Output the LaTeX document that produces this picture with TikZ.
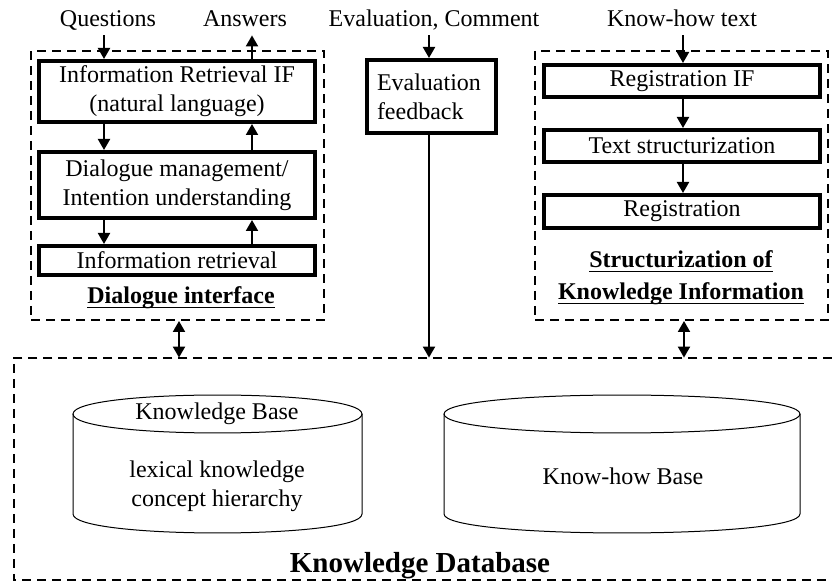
\documentclass[tikz,border=0pt]{standalone}
\usepackage{fontspec}
\setmainfont{Liberation Serif}
\usetikzlibrary{arrows.meta}

% underline that crosses descenders at a fixed depth
\newsavebox\ulinebox
\newcommand\ulined[1]{\sbox\ulinebox{#1}\rlap{\rule[-2pt]{\wd\ulinebox}{0.6pt}}\usebox\ulinebox}

\begin{document}
\begin{tikzpicture}[x=0.5pt,y=-0.5pt,
  every node/.style={font=\fontsize{12}{14.4}\selectfont, inner sep=0pt},
  thickbox/.style={draw, line width=2pt, align=center},
  groupbox/.style={draw, line width=1pt, dash pattern=on 4.5pt off 3pt},
  tip/.tip={Triangle[length=5.5pt,width=6pt]},
  arr/.style={line width=1pt, -tip},
  darr/.style={line width=1pt, tip-tip},
  lbl/.style={anchor=base, text depth=0pt},
  cyl/.style={line width=0.5pt}]
\useasboundingbox (0,0) rectangle (832,588);

% x positions of vertical connectors
\coordinate (qx) at (104,0);
\coordinate (ax) at (252,0);
\coordinate (ex) at (429,0);
\coordinate (kx) at (683,0);
\coordinate (dx) at (179,0);
\coordinate (sx) at (684,0);

% external inputs / outputs
\node[lbl] (q)  at (108,27) {Questions};
\node[lbl] (a)  at (245,27) {Answers};
\node[lbl] (ec) at (434,27) {Evaluation, Comment};
\node[lbl] (kt) at (682,27) {Know-how text};

% group frames
\node[groupbox, minimum width=146.5pt, minimum height=134.5pt] (dlg) at (177.5,185.5) {};
\node[groupbox, minimum width=146.5pt, minimum height=134.5pt] (sk)  at (681.5,185.5) {};

% dialogue interface
\node[thickbox, minimum width=138pt, minimum height=30.5pt] (irif) at (177,91.5)
  {Information Retrieval IF\\(natural language)};
\node[thickbox, minimum width=138pt, minimum height=33pt] (dm) at (177,185)
  {Dialogue management/\\Intention understanding};
\node[thickbox, minimum width=138pt, minimum height=14.5pt] (ir) at (177,260.5)
  {Information retrieval};
\node[lbl, font=\fontsize{12}{14.4}\selectfont\bfseries] (dlgl) at (181,304)
  {\ulined{Dialogue interface}};

% evaluation feedback
\node[draw, line width=2pt, align=left, text width=54.5pt, inner xsep=5pt,
      minimum height=36.5pt] (ev) at (431.5,96.5)
  {Evaluation\\feedback};

% structurization of knowledge information
\node[thickbox, minimum width=138pt, minimum height=16pt] (rif) at (682,81)
  {Registration IF};
\node[thickbox, minimum width=138pt, minimum height=16pt] (ts) at (682,146)
  {Text structurization};
\node[thickbox, minimum width=138pt, minimum height=16.5pt] (reg) at (682,211.5)
  {Registration};
\node[align=center, font=\fontsize{12}{16}\selectfont\bfseries] (skl) at (681,278)
  {\ulined{Structurization of}\\\ulined{Knowledge Information}};

% knowledge database frame (open on the right)
\node[minimum width=409pt, minimum height=111pt] (kd) at (423,469) {};
\draw[line width=1pt, dash pattern=on 4.5pt off 3pt]
  (kd.north east) -- (kd.north west) -- (kd.south west) -- (kd.south east);
\node[lbl, font=\fontsize{14.5}{17}\selectfont\bfseries] (kdl) at (420,573)
  {Knowledge Database};

% cylinders
\draw[cyl] (73,414) -- (73,514) .. controls (73,539.3) and (362,539.3) .. (362,514) -- (362,414);
\draw[cyl] (73,414) .. controls (73,388.7) and (362,388.7) .. (362,414)
  .. controls (362,439.3) and (73,439.3) .. (73,414) -- cycle;
\draw[cyl] (444,414) -- (444,514) .. controls (444,539.3) and (800,539.3) .. (800,514) -- (800,414);
\draw[cyl] (444,414) .. controls (444,388.7) and (800,388.7) .. (800,414)
  .. controls (800,439.3) and (444,439.3) .. (444,414) -- cycle;
\node (kbt) at (217,414) {Knowledge Base};
\node[align=center] (kbc) at (217,486) {lexical knowledge\\concept hierarchy};
\node (kh) at (623,476) {Know-how Base};

% connectors
\draw[arr, shorten <=4pt] (q.south -| qx) -- (irif.north -| qx);
\draw[arr, shorten >=4pt] (irif.north -| ax) -- (a.south -| ax);
\draw[arr] (irif.south -| qx) -- (dm.north -| qx);
\draw[arr] (dm.north -| ax) -- (irif.south -| ax);
\draw[arr] (dm.south -| qx) -- (ir.north -| qx);
\draw[arr] (ir.north -| ax) -- (dm.south -| ax);

\draw[arr, shorten <=4pt] (ec.south -| ex) -- (ev.north -| ex);
\draw[arr] (ev.south -| ex) -- (kd.north -| ex);

\draw[arr, shorten <=4pt] (kt.south -| kx) -- (rif.north -| kx);
\draw[arr] (rif.south -| kx) -- (ts.north -| kx);
\draw[arr] (ts.south -| kx) -- (reg.north -| kx);

\draw[darr] (dlg.south -| dx) -- (kd.north -| dx);
\draw[darr] (sk.south -| sx) -- (kd.north -| sx);
\end{tikzpicture}
\end{document}
